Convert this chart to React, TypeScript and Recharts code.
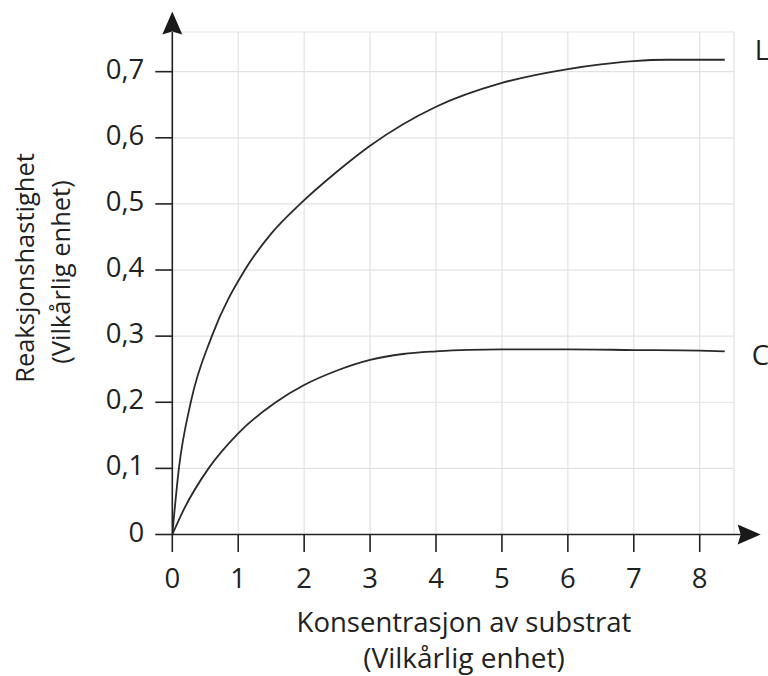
import React from 'react';
import { LineChart, Line, XAxis, YAxis, CartesianGrid, ReferenceLine, ReferenceDot } from 'recharts';

// ---- data ----
const xTicks = [0, 1, 2, 3, 4, 5, 6, 7, 8];
const yTicks = [0, 0.1, 0.2, 0.3, 0.4, 0.5, 0.6, 0.7];

const lX = [0, 0.1, 0.28, 0.6, 1.1, 1.5, 1.94, 2.5, 3.0, 4.0, 5.0, 6.0, 6.5, 7.0, 7.5, 8.0, 8.38];
const lY = [0, 0.1, 0.2, 0.3, 0.4, 0.455, 0.5, 0.549, 0.588, 0.647, 0.683, 0.704, 0.711, 0.716, 0.718, 0.718, 0.718];

const cX = [0, 0.17, 0.55, 1.0, 1.57, 2.0, 2.5, 3.0, 3.5, 4.0, 4.5, 5.0, 6.0, 7.0, 8.0, 8.38];
const cY = [0, 0.037, 0.1, 0.153, 0.2, 0.226, 0.248, 0.264, 0.273, 0.277, 0.2793, 0.28, 0.28, 0.279, 0.278, 0.277];

const seriesNames = ['L', 'C'];
const xTitle = ['Konsentrasjon av substrat', '(Vilkårlig enhet)'];
const yTitle = ['Reaksjonshastighet', '(Vilkårlig enhet)'];

const lData = lX.map((x, i) => ({ x, y: lY[i] }));
const cData = cX.map((x, i) => ({ x, y: cY[i] }));

const FONT = "'Open Sans', 'Noto Sans', sans-serif";
const INK = '#222';

const fmtY = (v: number) => (v === 0 ? '0' : v.toFixed(1).replace('.', ','));

const YTick = (props: any) => (
  <text x={props.x} y={props.y + 7} textAnchor="end" fontSize={27.5} fontFamily={FONT} fill={INK}>
    {fmtY(props.payload.value)}
  </text>
);

const XTick = (props: any) => (
  <text x={props.x} y={props.y + 36} textAnchor="middle" fontSize={27.5} fontFamily={FONT} fill={INK}>
    {String(props.payload.value)}
  </text>
);

const arrowUp = (props: any) => {
  const { cx, cy } = props;
  return (
    <polygon
      points={`${cx},${cy} ${cx + 10},${cy + 23} ${cx},${cy + 20} ${cx - 10},${cy + 23}`}
      fill="#1a1a1a"
    />
  );
};

const arrowRight = (props: any) => {
  const { cx, cy } = props;
  return (
    <polygon
      points={`${cx},${cy} ${cx - 23},${cy - 10} ${cx - 20},${cy} ${cx - 23},${cy + 10}`}
      fill="#1a1a1a"
    />
  );
};

const endLabel = (name: string, dx: number, dy: number) => (props: any) => (
  <text x={props.cx + dx} y={props.cy + dy} fontSize={27.5} fontFamily={FONT} fill={INK}>
    {name}
  </text>
);

export default function App() {
  const lLast = lData.length - 1;
  const cLast = cData.length - 1;
  return (
    <div style={{ position: 'absolute', left: 0, top: 0, width: 768, height: 676, background: '#fff' }}>
      <LineChart
        width={768}
        height={676}
        margin={{ top: 32, right: 34, bottom: 81.5, left: 72.3 }}
      >
        <CartesianGrid stroke="#e2e2e2" strokeWidth={1.2} />
        <XAxis
          dataKey="x"
          type="number"
          domain={[0, 8.52]}
          ticks={xTicks}
          interval={0}
          allowDataOverflow
          axisLine={false}
          height={60}
          tickSize={17.5}
          tickMargin={0}
          stroke={INK}
          tickLine={{ stroke: INK, strokeWidth: 1.6 }}
          tick={<XTick />}
        />
        <YAxis
          type="number"
          domain={[0, 0.76]}
          ticks={yTicks}
          interval={0}
          allowDataOverflow
          width={100}
          tickSize={17}
          tickMargin={11}
          stroke={INK}
          axisLine={{ stroke: INK, strokeWidth: 1.6 }}
          tickLine={{ stroke: INK, strokeWidth: 1.6 }}
          tick={<YTick />}
        />
        <ReferenceLine
          segment={[{ x: 0, y: 0 }, { x: 8.7, y: 0 }]}
          ifOverflow="visible"
          stroke={INK}
          strokeWidth={1.6}
        />
        <ReferenceDot x={8.925} y={0} ifOverflow="visible" shape={arrowRight} />
        <ReferenceDot x={0} y={0.791} ifOverflow="visible" shape={arrowUp} />
        <Line
          data={lData}
          dataKey="y"
          type="monotone"
          stroke="#2a2a2a"
          strokeWidth={1.8}
          dot={false}
          activeDot={false}
          isAnimationActive={false}
        />
        <Line
          data={cData}
          dataKey="y"
          type="monotone"
          stroke="#2a2a2a"
          strokeWidth={1.8}
          dot={false}
          activeDot={false}
          isAnimationActive={false}
        />
        <ReferenceDot x={lX[lLast]} y={lY[lLast]} ifOverflow="visible" shape={endLabel(seriesNames[0], 30, 0)} />
        <ReferenceDot x={cX[cLast]} y={cY[cLast]} ifOverflow="visible" shape={endLabel(seriesNames[1], 27, 13.5)} />
      </LineChart>
      <svg
        width={768}
        height={676}
        style={{ position: 'absolute', left: 0, top: 0, pointerEvents: 'none' }}
      >
        <text x={464} y={632} textAnchor="middle" fontSize={27.5} fontFamily={FONT} fill={INK}>
          {xTitle[0]}
        </text>
        <text x={464} y={668} textAnchor="middle" fontSize={28} fontFamily={FONT} fill={INK}>
          {xTitle[1]}
        </text>
        <text x={34} y={268} transform="rotate(-90 34 268)" textAnchor="middle" fontSize={25.5} fontFamily={FONT} fill={INK}>
          {yTitle[0]}
        </text>
        <text x={70} y={272} transform="rotate(-90 70 272)" textAnchor="middle" fontSize={25.5} fontFamily={FONT} fill={INK}>
          {yTitle[1]}
        </text>
      </svg>
    </div>
  );
}
